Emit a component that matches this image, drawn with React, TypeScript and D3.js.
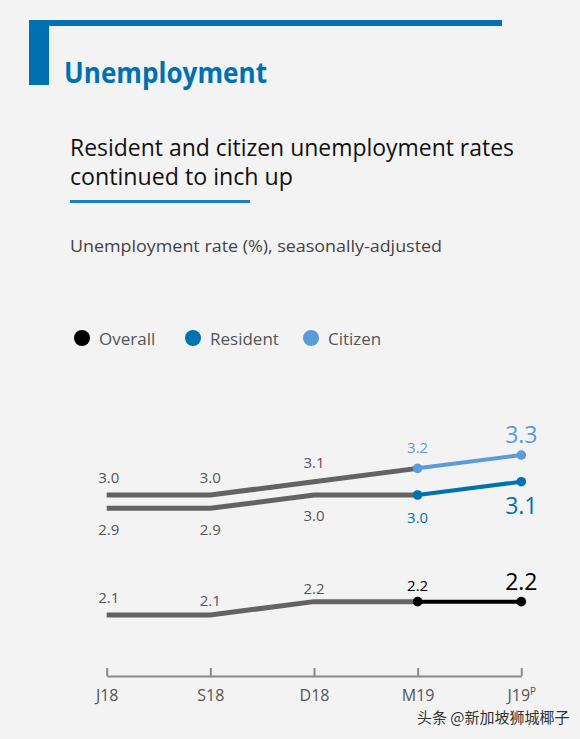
import React, { useEffect, useRef } from "react";
import * as d3 from "d3";

const periods = ["J18", "S18", "D18", "M19", "J19"];
const overall = [2.1, 2.1, 2.2, 2.2, 2.2];
const resident = [2.9, 2.9, 3.0, 3.0, 3.1];
const citizen = [3.0, 3.0, 3.1, 3.2, 3.3];
const legendItems = ["Overall", "Resident", "Citizen"];

const W = 580;
const H = 739;
const BG = "#f3f3f3";
const BLUE = "#0071b0";
const LIGHT = "#5b9bd6";
const GRAY_LINE = "#636363";
const TEXT_GRAY = "#555555";
const FONT = "'Open Sans', 'Noto Sans', sans-serif";

export default function App() {
  const axisRef = useRef<SVGGElement>(null);

  const x = d3.scalePoint<string>().domain(periods).range([106.7, 521.3]).padding(0);
  const y = d3.scaleLinear().domain([2.0, 3.4]).range([628.3, 441.7]);

  const line = d3
    .line<[string, number]>()
    .x((d) => x(d[0]) as number)
    .y((d) => y(d[1]));

  const pairs = (vals: number[]) => periods.map((p, i) => [p, vals[i]] as [string, number]);

  useEffect(() => {
    if (!axisRef.current) return;
    const g = d3.select(axisRef.current);
    g.selectAll("*").remove();
    g.call(d3.axisBottom(x).tickSize(-8).tickSizeOuter(0).tickPadding(14));
    g.select(".domain").attr("stroke", "#8a8a8a").attr("stroke-width", 2);
    g.selectAll(".tick line").attr("stroke", "#8a8a8a").attr("stroke-width", 2);
    g.selectAll(".tick text")
      .attr("fill", TEXT_GRAY)
      .attr("font-size", 16)
      .attr("font-family", FONT)
      .each(function (d: any) {
        if (d === "J19") {
          const t = d3.select(this);
          t.append("tspan").attr("font-size", 10).attr("dy", "-0.6em").text("P");
        }
      });
  }, []);

  const series = [
    { vals: citizen, color: LIGHT },
    { vals: resident, color: BLUE },
    { vals: overall, color: "#000000" },
  ];

  // label specs: [series values, offsets per point, colors for last two]
  const labelFmt = d3.format(".1f");
  const labelSets = [
    { vals: citizen, offs: [-12, -12, -14, -15, -12], color: LIGHT },
    { vals: resident, offs: [27, 27, 26, 28, 32], color: BLUE },
    { vals: overall, offs: [-12, -9, -8, -11, -12], color: "#000000" },
  ];

  const legendX = [82, 193, 311];
  const legendColors = ["#000000", BLUE, LIGHT];

  return (
    <svg
      width={W}
      height={H}
      style={{ position: "absolute", left: 0, top: 0, background: BG }}
      fontFamily={FONT}
    >
      <rect x={0} y={0} width={W} height={H} fill={BG} />
      {/* header frame */}
      <rect x={29} y={20} width={473} height={6} fill={BLUE} />
      <rect x={29} y={20} width={20} height={65} fill={BLUE} />
      <text x={64} y={83} fill={BLUE} fontSize={28} fontWeight={700} textLength={203} lengthAdjust="spacingAndGlyphs">
        Unemployment
      </text>

      {/* title */}
      <text x={70} y={156} fill="#111" fontSize={23} textLength={444} lengthAdjust="spacingAndGlyphs">
        Resident and citizen unemployment rates
      </text>
      <text x={70} y={185} fill="#111" fontSize={23} textLength={223} lengthAdjust="spacingAndGlyphs">
        continued to inch up
      </text>
      <rect x={70} y={200} width={180} height={3} fill="#1a7fc1" />

      <text x={70} y={252} fill="#444" fontSize={17} textLength={372} lengthAdjust="spacingAndGlyphs">
        Unemployment rate (%), seasonally-adjusted
      </text>

      {/* legend */}
      {legendItems.map((name, i) => (
        <g key={name}>
          <circle cx={legendX[i]} cy={338} r={8} fill={legendColors[i]} />
          <text x={legendX[i] + 17} y={345} fill={TEXT_GRAY} fontSize={17}>
            {name}
          </text>
        </g>
      ))}

      {/* lines */}
      {series.map((s, i) => {
        const pts = pairs(s.vals);
        return (
          <g key={i}>
            <path d={line(pts.slice(0, 4)) || ""} fill="none" stroke={GRAY_LINE} strokeWidth={5} />
            <path d={line(pts.slice(3)) || ""} fill="none" stroke={s.color} strokeWidth={4} />
            {pts.slice(3).map((p, j) => (
              <circle key={j} cx={x(p[0]) as number} cy={y(p[1])} r={4.8} fill={s.color} />
            ))}
          </g>
        );
      })}

      {/* data labels */}
      {labelSets.map((ls, si) =>
        ls.vals.map((v, i) => {
          const big = i === 4;
          const colored = i >= 3;
          return (
            <text
              key={`${si}-${i}`}
              x={(x(periods[i]) as number) + (i === 0 ? 2 : 0)}
              y={y(v) + ls.offs[i]}
              textAnchor="middle"
              fontSize={big ? 23 : 15}
              fill={colored ? ls.color : TEXT_GRAY}
            >
              {labelFmt(v)}
            </text>
          );
        })
      )}

      {/* axis */}
      <g ref={axisRef} transform="translate(0,676)" />

      {/* watermark */}
      <text x={417} y={723} fontSize={15} fill="#333" fontFamily="'Noto Sans CJK SC', sans-serif">
        头条 @新加坡狮城椰子
      </text>
    </svg>
  );
}
